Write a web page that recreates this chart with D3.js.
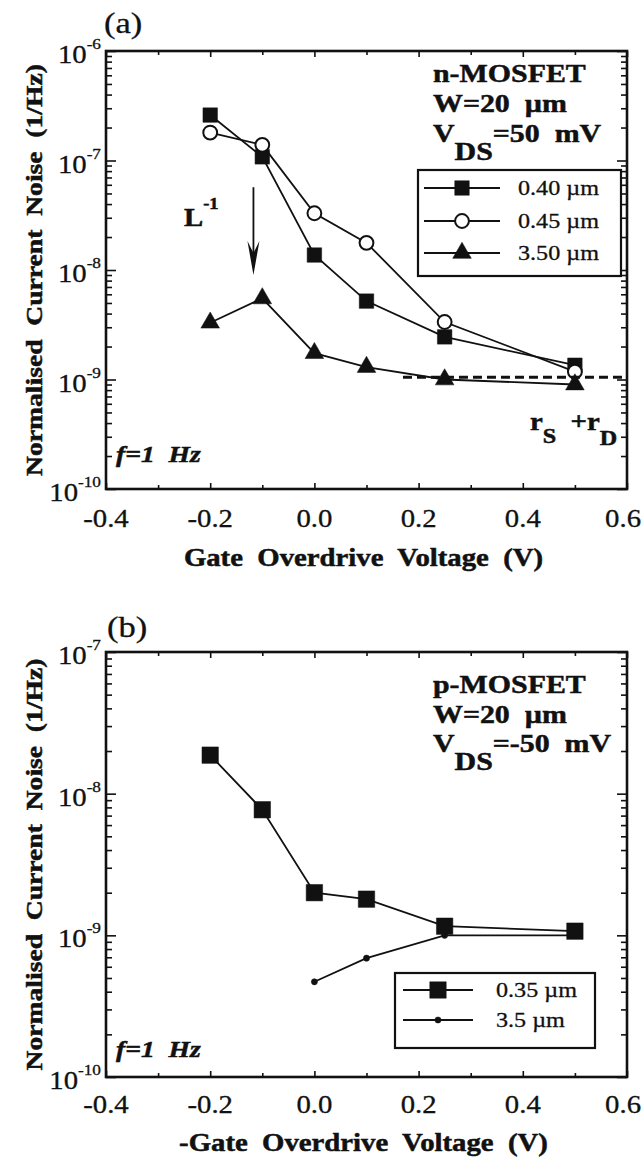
<!DOCTYPE html>
<html>
<head>
<meta charset="utf-8">
<script src="https://cdn.jsdelivr.net/npm/d3@7"></script>
<style>
  body { margin: 0; background: #fff; }
  svg { display: block; }
  text { font-family: "Liberation Serif", "Times New Roman", serif; fill: #111; white-space: pre; }
</style>
</head>
<body>
<svg></svg>
<script>
// panel (a) n-MOSFET
const nGateV = [-0.2, -0.1, 0.0, 0.1, 0.25, 0.5]
const nNoise040 = [2.6e-7, 1.08e-7, 1.37e-8, 5.2e-9, 2.45e-9, 1.35e-9]
const nNoise045 = [1.8e-7, 1.39e-7, 3.3e-8, 1.77e-8, 3.35e-9, 1.18e-9]
const nNoise350 = [3.3e-9, 5.5e-9, 1.74e-9, 1.3e-9, 1.0e-9, 9.0e-10]
const nLabels = ['0.40 µm', '0.45 µm', '3.50 µm']
const rsrdX = [0.17, 0.6]
const rsrdLevel = 1.05e-9
const arrowX = -0.117
const arrowFrom = 5.7e-8
const arrowTo = 9e-9

// panel (b) p-MOSFET
const pGateV035 = [-0.2, -0.1, 0.0, 0.1, 0.25, 0.5]
const pNoise035 = [1.87e-8, 7.7e-9, 2.0e-9, 1.8e-9, 1.16e-9, 1.07e-9]
const pGateV35 = [0.0, 0.1, 0.25, 0.5]
const pNoise35 = [4.7e-10, 6.9e-10, 1.0e-9, 1.0e-9]
const pLabels = ['0.35 µm', '3.5 µm']

const xTickValues = [-0.4, -0.2, 0.0, 0.2, 0.4, 0.6]
const xMinorValues = [-0.3, -0.1, 0.1, 0.3, 0.5]

const width = 643
const height = 1161
const left = 106
const right = 627
const SX = 1.15

const svg = d3.select('svg').attr('width', width).attr('height', height)

const addText = (parent, xPos, yPos, size, opts = {}) =>
  parent.append('text')
    .attr('transform', `translate(${xPos},${yPos})${opts.rotate ? ' rotate(-90)' : ''} scale(${SX},1)`)
    .attr('text-anchor', opts.anchor || 'start')
    .style('font-size', size + 'px')
    .style('font-weight', opts.bold ? 'bold' : 'normal')
    .style('font-style', opts.italic ? 'italic' : 'normal')
    .style('stroke', '#111')
    .style('stroke-width', opts.bold ? 0.5 : 0.3)

const drawPanel = (cfg) => {
  const x = d3.scaleLinear().domain([-0.4, 0.6]).range([left, right])
  const y = d3.scaleLog().domain(cfg.yDomain).range([cfg.bottom, cfg.top])
  const g = svg.append('g')

  const [lo, hi] = cfg.yDomain.map(v => Math.round(Math.log10(v)))
  const majors = d3.range(lo, hi + 1).map(e => Math.pow(10, e))
  const minors = []
  for (let e = lo; e < hi; e++) {
    for (let m = 2; m <= 9; m++) minors.push(m * Math.pow(10, e))
  }

  const axes = [
    [d3.axisLeft(y).tickValues(majors).tickSize(-10), `translate(${left},0)`],
    [d3.axisLeft(y).tickValues(minors).tickSize(-6), `translate(${left},0)`],
    [d3.axisRight(y).tickValues(majors).tickSize(-10), `translate(${right},0)`],
    [d3.axisRight(y).tickValues(minors).tickSize(-6), `translate(${right},0)`],
    [d3.axisBottom(x).tickValues(xTickValues).tickSize(-6), `translate(0,${cfg.bottom})`],
    [d3.axisBottom(x).tickValues(xMinorValues).tickSize(-4), `translate(0,${cfg.bottom})`],
    [d3.axisTop(x).tickValues(xTickValues).tickSize(-6), `translate(0,${cfg.top})`],
    [d3.axisTop(x).tickValues(xMinorValues).tickSize(-4), `translate(0,${cfg.top})`]
  ]
  axes.forEach(([axis, tr]) => {
    const a = g.append('g').attr('transform', tr).call(axis.tickFormat(''))
    a.select('.domain').remove()
    a.selectAll('line').attr('stroke', '#111').attr('stroke-width', 1.6)
  })

  g.append('rect')
   .attr('x', left).attr('y', cfg.top)
   .attr('width', right - left).attr('height', cfg.bottom - cfg.top)
   .attr('fill', 'none').attr('stroke', '#111').attr('stroke-width', 2.6)

  // y tick labels
  majors.forEach(v => {
    const t = addText(g, 101, y(v) + 12, 25, { anchor: 'end' })
    t.append('tspan').text('10')
    t.append('tspan').attr('dy', -14).style('font-size', '15px').text('-' + Math.abs(Math.round(Math.log10(v))))
  })

  // x tick labels (last one kept inside the page edge)
  xTickValues.forEach((v, i) => {
    const last = i === xTickValues.length - 1
    addText(g, last ? 641 : x(v), cfg.xLabelY, 25, { anchor: last ? 'end' : 'middle' }).text(v.toFixed(1))
  })

  addText(g, (left + right) / 2 - 3, cfg.xTitleY, 25, { anchor: 'middle', bold: true }).text(cfg.xTitle)
  addText(g, 42, (cfg.top + cfg.bottom) / 2, 24, { anchor: 'middle', bold: true, rotate: true })
    .text('Normalised  Current  Noise  (1/Hz)')
  addText(g, cfg.tagX, cfg.tagY, 30).text(cfg.tag)
  addText(g, 116, cfg.fY, 24, { bold: true, italic: true }).text('f=1  Hz')

  // device text
  const [d1, d2, d3y] = cfg.deviceY
  addText(g, 433, d1, 26, { bold: true }).text(cfg.device)
  addText(g, 433, d2, 26, { bold: true }).text('W=20  µm')
  const vds = addText(g, 433, d3y, 26, { bold: true })
  vds.append('tspan').text('V')
  vds.append('tspan').attr('dy', 18).text('DS')
  vds.append('tspan').attr('dy', -18).text(cfg.vds)

  const line = d3.line().x(d => x(d[0])).y(d => y(d[1]))
  cfg.series.forEach(s => {
    const pts = d3.zip(s.x, s.y)
    g.append('path').datum(pts)
     .attr('d', line).attr('fill', 'none').attr('stroke', '#111').attr('stroke-width', 1.8)
    g.selectAll(null).data(pts).join('path')
     .attr('transform', d => `translate(${x(d[0])},${y(d[1])})`)
     .attr('d', d3.symbol().type(s.symbol).size(s.size))
     .attr('fill', s.fill).attr('stroke', '#111').attr('stroke-width', s.fill === '#fff' ? 2 : 0.5)
  })

  // legend
  const lg = cfg.legend
  g.append('rect')
   .attr('x', lg.x0).attr('y', lg.y0)
   .attr('width', lg.x1 - lg.x0).attr('height', lg.y1 - lg.y0)
   .attr('fill', '#fff').attr('stroke', '#111').attr('stroke-width', 2.2)
  cfg.series.forEach((s, i) => {
    const ry = lg.rows[i]
    g.append('line').attr('x1', lg.lx0).attr('x2', lg.lx1).attr('y1', ry).attr('y2', ry)
     .attr('stroke', '#111').attr('stroke-width', 2)
    g.append('path').attr('transform', `translate(${(lg.lx0 + lg.lx1) / 2},${ry})`)
     .attr('d', d3.symbol().type(s.symbol).size(s.size))
     .attr('fill', s.fill).attr('stroke', '#111').attr('stroke-width', s.fill === '#fff' ? 2 : 0.5)
    addText(g, lg.tx, ry + 7, 21).text(cfg.labels[i])
  })

  return { g, x, y }
}

const panelA = drawPanel({
  top: 51, bottom: 489, yDomain: [1e-10, 1e-6],
  xLabelY: 527, xTitleY: 566, xTitle: 'Gate  Overdrive  Voltage  (V)',
  tag: '(a)', tagX: 104, tagY: 33, fY: 462,
  device: 'n-MOSFET', vds: '=50  mV', deviceY: [82, 112, 142],
  labels: nLabels,
  legend: { x0: 418, x1: 621, y0: 170, y1: 276, rows: [188, 221, 253], lx0: 424, lx1: 500, tx: 518 },
  series: [
    { x: nGateV, y: nNoise040, symbol: d3.symbolSquare, size: 210, fill: '#111' },
    { x: nGateV, y: nNoise045, symbol: d3.symbolCircle, size: 150, fill: '#fff' },
    { x: nGateV, y: nNoise350, symbol: d3.symbolTriangle, size: 150, fill: '#111' }
  ]
})

// r_S + r_D dashed level
panelA.g.append('line')
  .attr('x1', panelA.x(rsrdX[0])).attr('x2', panelA.x(rsrdX[1]))
  .attr('y1', panelA.y(rsrdLevel)).attr('y2', panelA.y(rsrdLevel))
  .attr('stroke', '#111').attr('stroke-width', 3).attr('stroke-dasharray', '9,5')

const rs = addText(panelA.g, 530, 430, 25, { bold: true })
rs.append('tspan').text('r')
rs.append('tspan').attr('dy', 13).style('font-size', '21px').text('S')
rs.append('tspan').attr('dy', -13).text('  +r')
rs.append('tspan').attr('dy', 15).style('font-size', '21px').text('D')

// L^-1 arrow
const ax = panelA.x(arrowX)
const ay0 = panelA.y(arrowFrom)
const ay1 = panelA.y(arrowTo)
panelA.g.append('line').attr('x1', ax).attr('x2', ax).attr('y1', ay0).attr('y2', ay1 - 20)
  .attr('stroke', '#111').attr('stroke-width', 1.8)
panelA.g.append('path')
  .attr('d', `M${ax},${ay1} L${ax - 6},${ay1 - 34} L${ax},${ay1 - 22} L${ax + 6},${ay1 - 34} Z`)
  .attr('fill', '#111')
const lt = addText(panelA.g, 184, 226, 25, { bold: true })
lt.append('tspan').text('L')
lt.append('tspan').attr('dy', -17).style('font-size', '16px').text('-1')

drawPanel({
  top: 652, bottom: 1077, yDomain: [1e-10, 1e-7],
  xLabelY: 1113, xTitleY: 1151, xTitle: '-Gate  Overdrive  Voltage  (V)',
  tag: '(b)', tagX: 107, tagY: 637, fY: 1057,
  device: 'p-MOSFET', vds: '=-50  mV', deviceY: [693, 723, 752],
  labels: pLabels,
  legend: { x0: 395, x1: 595, y0: 973, y1: 1048, rows: [990, 1020], lx0: 403, lx1: 473, tx: 496 },
  series: [
    { x: pGateV035, y: pNoise035, symbol: d3.symbolSquare, size: 270, fill: '#111' },
    { x: pGateV35, y: pNoise35, symbol: d3.symbolCircle, size: 30, fill: '#111' }
  ]
})
</script>
</body>
</html>
